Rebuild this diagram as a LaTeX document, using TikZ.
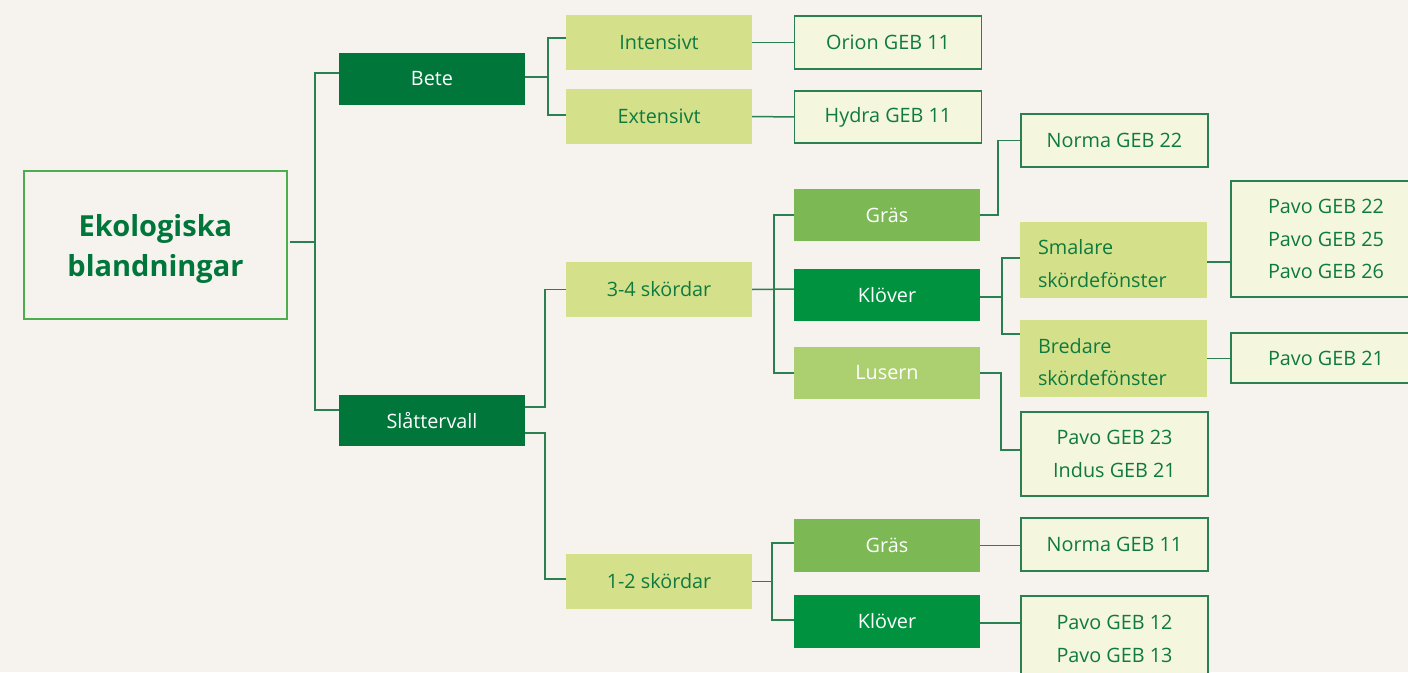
\documentclass[tikz,border=0pt]{standalone}
\usepackage{fontspec}
\setmainfont{Open Sans}
\definecolor{bg}{HTML}{F6F3EE}
\definecolor{dkgreen}{HTML}{00763B}
\definecolor{klgreen}{HTML}{00923F}
\definecolor{grgreen}{HTML}{7CB853}
\definecolor{lugreen}{HTML}{ACD070}
\definecolor{ylgreen}{HTML}{D5E08B}
\definecolor{outfill}{HTML}{F4F6DE}
\definecolor{txtgreen}{HTML}{0E7A3F}
\definecolor{linegreen}{HTML}{2A8050}
\definecolor{rootline}{HTML}{4DAE50}
\begin{document}
\begin{tikzpicture}[x=1pt,y=-1pt,
  base/.style={inner sep=0pt, outer sep=0pt, font=\fontsize{19.8}{32.5}\selectfont, align=center, minimum width=186pt, minimum height=52pt},
  darkbox/.style={base, fill=dkgreen, text=white},
  klbox/.style={base, fill=klgreen, text=white},
  grbox/.style={base, fill=grgreen, text=white},
  lubox/.style={base, fill=lugreen, text=white},
  ylbox/.style={base, fill=ylgreen, text=txtgreen, minimum height=55pt},
  leftbox/.style={base, fill=ylgreen, text=txtgreen, align=left, text width=151pt, inner xsep=18pt, minimum width=0pt},
  outbox/.style={base, fill=outfill, draw=linegreen, line width=1.4pt, text=txtgreen, minimum width=187pt, minimum height=53pt},
  rootbox/.style={inner sep=0pt, outer sep=0pt, fill=bg, draw=rootline, line width=2.4pt, text=dkgreen, align=center, font=\fontsize{29}{40}\selectfont\bfseries, minimum width=263pt, minimum height=148pt},
  conn/.style={draw=linegreen, line width=1.5pt}
]
\fill[bg] (0,0) rectangle (1408,672);
\useasboundingbox (0,0) rectangle (1408,672);

% nodes
\node[rootbox] (root) at (155.5,245) {\rule{0pt}{30pt}Ekologiska\\blandningar};
\node[darkbox] (bete) at (432,79) {Bete};
\node[darkbox, minimum height=51pt] (slat) at (432,420.5) {Slåttervall};
\node[ylbox] (intens) at (659,42.5) {Intensivt};
\node[ylbox] (extens) at (659,116.5) {Extensivt};
\node[outbox] (orion) at (888,42.5) {Orion GEB 11};
\node[outbox, minimum height=52pt] (hydra) at (888,117) {Hydra GEB 11};
\node[ylbox] (s34) at (659,289.5) {3-4 skördar};
\node[ylbox] (s12) at (659,581.5) {1-2 skördar};
\node[grbox] (gras1) at (887,215) {Gräs};
\node[klbox] (klover1) at (887,295) {Klöver};
\node[lubox] (lusern) at (887,373) {Lusern};
\node[outbox] (norma22) at (1114.5,140.5) {Norma GEB 22};
\node[leftbox, minimum height=76pt] (smalare) at (1113.5,260) {\rule{0pt}{22pt}Smalare\\skördefönster};
\node[leftbox, minimum height=77pt] (bredare) at (1113.5,358.5) {\rule{0pt}{22pt}Bredare\\skördefönster};
\node[outbox, minimum width=190pt, minimum height=116pt] (pavo3) at (1326,239) {Pavo GEB 22\\Pavo GEB 25\\Pavo GEB 26};
\node[outbox, minimum width=190pt, minimum height=50pt] (pavo21) at (1326,358) {Pavo GEB 21};
\node[outbox, minimum height=84pt] (pavo23) at (1114.5,454) {Pavo GEB 23\\Indus GEB 21};
\node[grbox, minimum height=53pt] (gras2) at (887,545.5) {Gräs};
\node[klbox, minimum height=53pt] (klover2) at (887,621.5) {Klöver};
\node[outbox] (norma11) at (1114.5,544.5) {Norma GEB 11};
\node[outbox, minimum height=86pt] (pavo12) at (1114.5,639) {Pavo GEB 12\\Pavo GEB 13};

% connectors
\draw[conn] ([xshift=3pt,yshift=3pt]root.east) -- ++(25,0) coordinate (t0);
\draw[conn] ([yshift=6pt]bete.west) -| (t0) |- ([yshift=10.5pt]slat.west);

\draw[conn] ([yshift=2pt]bete.east) -- ++(23,0) coordinate (b1);
\draw[conn] ([yshift=4.5pt]intens.west) -| (b1) |- ([yshift=1.5pt]extens.west);
\draw[conn] (intens.east) -- (orion.west);
\draw[conn] (extens.east) -- (hydra.west);

\draw[conn] ([yshift=13.5pt]slat.east) -- ++(20,0) |- (s34.west);
\draw[conn] ([yshift=-12.5pt]slat.east) -- ++(20,0) |- ([yshift=2.5pt]s12.west);

\draw[conn] (s34.east) -- ([yshift=6pt]klover1.west);
\draw[conn] (gras1.west) -| ([xshift=-20pt]lusern.west) -- (lusern.west);

\draw[conn] (gras1.east) -- ++(18,0) |- (norma22.west);

\draw[conn] ([yshift=-2pt]klover1.east) -- ++(22,0) coordinate (k1);
\draw[conn] ([yshift=2pt]smalare.west) -| (k1) |- ([yshift=24.5pt]bredare.west);

\coordinate (sm) at ([yshift=-2pt]smalare.east);
\draw[conn] (sm) -- (sm -| pavo3.west);
\draw[conn] (bredare.east) -- (bredare.east -| pavo21.west);

\draw[conn] (lusern.east) -- ++(21,0) |- ([yshift=4pt]pavo23.west);

\draw[conn] (s12.east) -- ++(20,0) coordinate (c2);
\draw[conn] ([yshift=2.5pt]gras2.west) -| (c2) |- ([yshift=1.5pt]klover2.west);
\draw[conn] (gras2.east) -- (gras2.east -| norma11.west);
\coordinate (kl2) at ([yshift=-1.5pt]klover2.east);
\draw[conn] (kl2) -- (kl2 -| pavo12.west);
\end{tikzpicture}
\end{document}
